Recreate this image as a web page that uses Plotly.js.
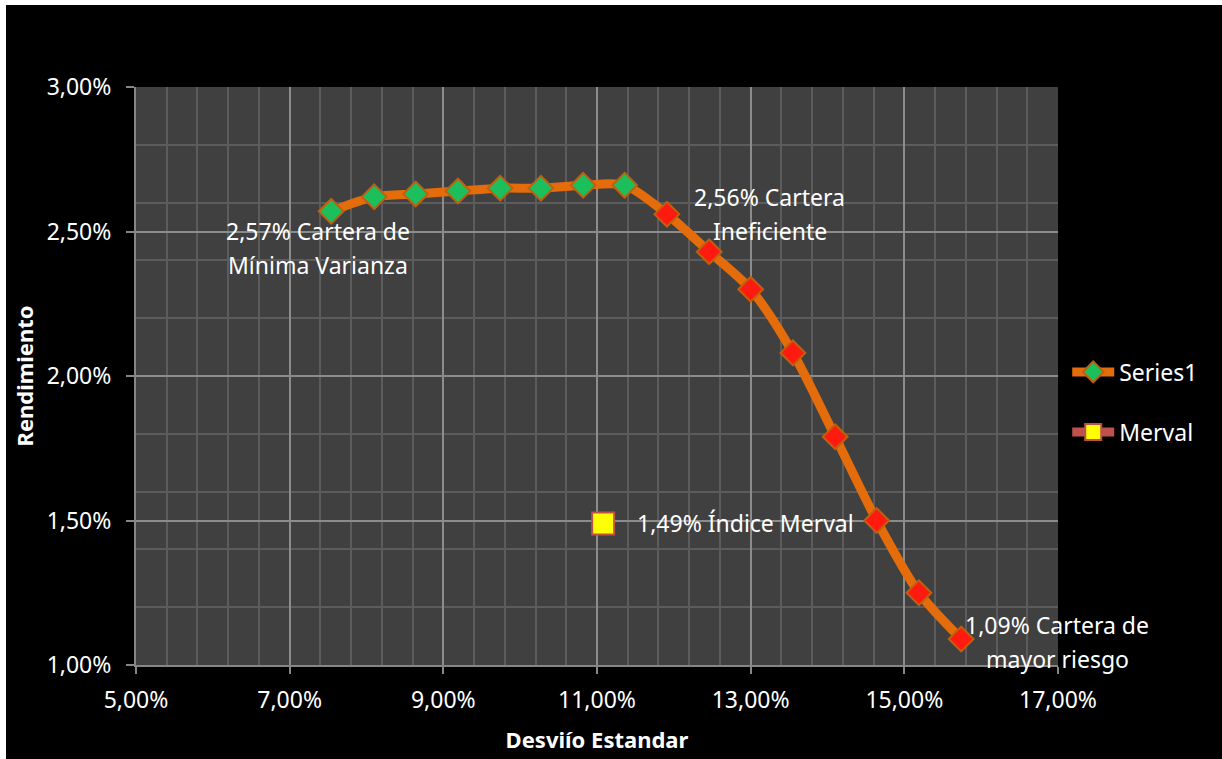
<!DOCTYPE html>
<html>
<head>
<meta charset="utf-8">
<script src="https://cdn.plot.ly/plotly-3.0.1.min.js"></script>
<style>
  html, body { margin: 0; padding: 0; background: #ffffff; }
  #chart { position: absolute; left: 6px; top: 5px; width: 1216px; height: 754px; background: #000; }
</style>
</head>
<body>
<div id="chart"></div>
<script>
// Frontier portfolios: standard deviation (x) and return (y)
const desvio = [0.0754, 0.0810, 0.0864, 0.0919, 0.0974, 0.1027, 0.1082, 0.1136,
                0.1191, 0.1246, 0.1300, 0.1355, 0.1410, 0.1464, 0.1519, 0.1574];
const rendimiento = [0.0257, 0.0262, 0.0263, 0.0264, 0.0265, 0.0265, 0.0266, 0.0266,
                     0.0256, 0.0243, 0.0230, 0.0208, 0.0179, 0.0150, 0.0125, 0.0109];
// Merval index point
const mervalX = [0.1108];
const mervalY = [0.0149];

const seriesNames = ["Series1", "Merval"];

// Point labels
const labelMinVar = ["2,57% Cartera de", "Mínima Varianza"];
const labelIneff = ["2,56% Cartera", "Ineficiente"];
const labelMerval = ["1,49% Índice Merval"];
const labelRisk = ["1,09% Cartera de", "mayor riesgo"];

// Efficient portion (up to the last maximum return) is green, the rest red
const maxRet = Math.max(...rendimiento);
const lastMax = rendimiento.lastIndexOf(maxRet);
const markerColors = rendimiento.map((v, i) => i <= lastMax ? '#1DBF5C' : '#FF1A10');

const FONT = '"Noto Sans", "Open Sans", sans-serif';
const FS = 23;

const traces = [
  {
    x: desvio, y: rendimiento, name: seriesNames[0],
    type: 'scatter', mode: 'lines+markers',
    line: { color: '#E46C0A', width: 9, shape: 'spline', smoothing: 0.8 },
    marker: { symbol: 'diamond', size: 19, color: markerColors,
              line: { color: '#C0600E', width: 2 } },
    legend: 'legend',
    hoverinfo: 'x+y'
  },
  {
    x: mervalX, y: mervalY, name: seriesNames[1],
    type: 'scatter', mode: 'lines+markers',
    line: { color: '#C0504D', width: 9 },
    marker: { symbol: 'square', size: 22, color: '#FFFF00',
              line: { color: '#C0504D', width: 2 } },
    legend: 'legend2',
    hoverinfo: 'x+y'
  }
];

function lineAnnots(px, py, lines, xshift, yCenterShift, xanchor) {
  const spacing = 34;
  const n = lines.length;
  return lines.map((t, i) => ({
    x: px, y: py, xref: 'x', yref: 'y', text: t, showarrow: false,
    xanchor: xanchor || 'center', yanchor: 'middle',
    xshift: xshift,
    yshift: yCenterShift - (i - (n - 1) / 2) * spacing,
    font: { family: FONT, size: FS, color: '#ffffff' }
  }));
}

const annotations = [].concat(
  lineAnnots(desvio[0], rendimiento[0], labelMinVar, -13, -37),
  lineAnnots(desvio[8], rendimiento[8], labelIneff, 103, 0),
  lineAnnots(mervalX[0], mervalY[0], labelMerval, 32, 0, 'left'),
  lineAnnots(desvio[15], rendimiento[15], labelRisk, 96, -3)
);

const gridMajor = '#8C8C8C';
const gridMinor = '#5C5C5C';

const layout = {
  width: 1216, height: 754,
  paper_bgcolor: '#000000', plot_bgcolor: '#404040',
  margin: { l: 130, r: 164, t: 82, b: 94 },
  separators: ',.',
  font: { family: FONT, color: '#ffffff', size: FS },
  xaxis: {
    range: [0.05, 0.17], tick0: 0.05, dtick: 0.02, tickformat: '.2%',
    showgrid: true, gridcolor: gridMajor, gridwidth: 1.5,
    minor: { dtick: 0.004, tick0: 0.05, showgrid: true, gridcolor: gridMinor, gridwidth: 1.5 },
    showline: true, linecolor: '#868686', linewidth: 2,
    ticks: 'outside', ticklen: 7, tickcolor: '#868686', tickwidth: 2,
    ticklabelstandoff: 6,
    tickfont: { family: FONT, size: FS, color: '#ffffff' },
    zeroline: false,
    title: { text: '<b>Desviío Estandar</b>', font: { family: FONT, size: 22, color: '#ffffff' }, standoff: 19 }
  },
  yaxis: {
    range: [0.01, 0.03], tick0: 0.01, dtick: 0.005, tickformat: '.2%',
    showgrid: true, gridcolor: gridMajor, gridwidth: 1.5,
    minor: { dtick: 0.002, tick0: 0.01, showgrid: true, gridcolor: gridMinor, gridwidth: 1.5 },
    showline: true, linecolor: '#868686', linewidth: 2,
    ticks: 'outside', ticklen: 8, tickcolor: '#868686', tickwidth: 2,
    ticklabelstandoff: 10,
    tickfont: { family: FONT, size: FS, color: '#ffffff' },
    zeroline: false,
    title: { text: '<b>Rendimiento</b>', font: { family: FONT, size: 22, color: '#ffffff' }, standoff: 7 }
  },
  showlegend: true,
  legend: {
    x: 1.01, xanchor: 'left', y: 0.507, yanchor: 'middle', itemwidth: 42,
    bgcolor: 'rgba(0,0,0,0)', font: { family: FONT, size: FS, color: '#ffffff' }
  },
  legend2: {
    x: 1.01, xanchor: 'left', y: 0.403, yanchor: 'middle', itemwidth: 42,
    bgcolor: 'rgba(0,0,0,0)', font: { family: FONT, size: FS, color: '#ffffff' }
  },
  annotations: annotations,
  hovermode: 'closest'
};

Plotly.newPlot('chart', traces, layout, { displayModeBar: false, responsive: false });
</script>
</body>
</html>
